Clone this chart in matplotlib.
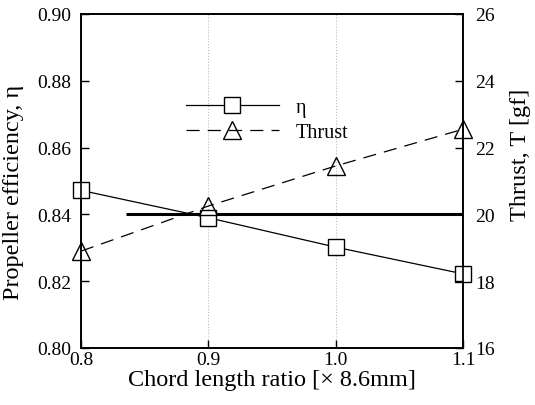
import matplotlib
matplotlib.use("Agg")
import matplotlib.pyplot as plt

plt.rcParams['font.family'] = ['Liberation Serif', 'DejaVu Serif']

chord_ratio = [0.8, 0.9, 1.0, 1.1]
efficiency = [0.8472, 0.8390, 0.8302, 0.8222]
thrust = [18.9, 20.25, 21.45, 22.55]
target_eff = 0.84
target_start = 0.835

fig = plt.figure(figsize=(5.35, 4.06), dpi=100)
ax = fig.add_axes([81/535, 1 - 349/406, 382/535, 334/406])
ax2 = ax.twinx()

ax.set_xlim(0.8, 1.1)
ax.set_ylim(0.80, 0.90)
ax2.set_ylim(16, 26)

for xv in [0.9, 1.0]:
    ax.axvline(xv, color='#bbbbbb', linestyle=':', linewidth=0.8, zorder=0)

ax.hlines(target_eff, target_start, 1.1, color='black', linewidth=2.2, zorder=3)

l1, = ax.plot(chord_ratio, efficiency, '-', color='black', linewidth=0.9,
              marker='s', markersize=11, markerfacecolor='white',
              markeredgecolor='black', markeredgewidth=1.0, label='η',
              zorder=4, clip_on=False)
l2, = ax2.plot(chord_ratio, thrust, '--', color='black', linewidth=0.9,
               dashes=(10.5, 6.5), marker='^', markersize=13, markerfacecolor='none',
               markeredgecolor='black', markeredgewidth=1.0, label='Thrust',
               zorder=4, clip_on=False)

ax.set_xticks([0.8, 0.9, 1.0, 1.1])
ax.set_xticklabels(['0.8', '0.9', '1.0', '1.1'])
ax.set_yticks([0.80, 0.82, 0.84, 0.86, 0.88, 0.90])
ax.set_yticklabels(['0.80', '0.82', '0.84', '0.86', '0.88', '0.90'])
ax2.set_yticks([16, 18, 20, 22, 24, 26])

ax.tick_params(axis='y', direction='in', length=6, width=1, labelsize=14, pad=7)
ax.tick_params(axis='x', direction='in', length=6, width=1, labelsize=14, pad=2)
ax2.tick_params(axis='y', direction='in', length=6, width=1, labelsize=14, pad=9)

for a in (ax, ax2):
    for s in a.spines.values():
        s.set_linewidth(1.2)

ax.set_xlabel('Chord length ratio [× 8.6mm]', fontsize=17.5, labelpad=1)
ax.set_ylabel('Propeller efficiency, η', fontsize=17.5)
ax2.set_ylabel('Thrust, T [gf]', fontsize=17.5)
ax.yaxis.set_label_coords(-0.148, 0.47)
ax2.yaxis.set_label_coords(1.123, 0.58)

leg = ax.legend(handles=[l1, l2], loc='upper left', bbox_to_anchor=(0.275, 0.75),
                frameon=False, fontsize=14.5, handlelength=4.6, handletextpad=0.85,
                labelspacing=0.3, borderaxespad=0, borderpad=0)

fig.savefig('out.png', dpi=100)
